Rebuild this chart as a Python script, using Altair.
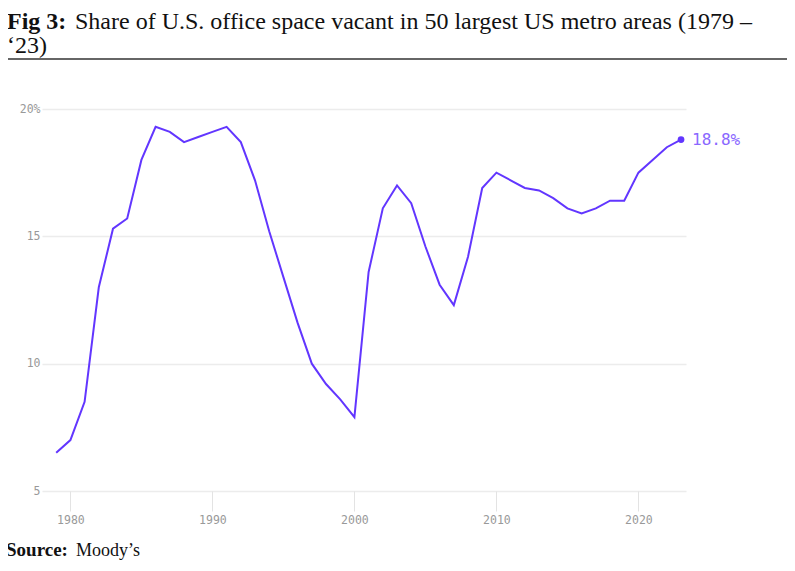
import altair as alt
import pandas as pd

years = list(range(1979, 2024))
vacancy = [6.5, 7.0, 8.5, 13.0, 15.3, 15.7, 18.0, 19.3, 19.1, 18.7,
           18.9, 19.1, 19.3, 18.7, 17.2, 15.2, 13.4, 11.6, 10.0, 9.2,
           8.6, 7.9, 13.6, 16.1, 17.0, 16.3, 14.6, 13.1, 12.3, 14.2,
           16.9, 17.5, 17.2, 16.9, 16.8, 16.5, 16.1, 15.9, 16.1, 16.4,
           16.4, 17.5, 18.0, 18.5, 18.8]
y_ticks = [5, 10, 15, 20]
x_ticks = [1980, 1990, 2000, 2010, 2020]

title_bold = "Fig 3:"
title_line1 = "Share of U.S. office space vacant in 50 largest US metro areas (1979 \u2013"
title_line2 = "\u201823)"
source_bold = "Source:"
source_text = "Moody\u2019s"

LINE = "#6236ff"
LABEL = "#8a68ff"
MONO = "DejaVu Sans Mono"
SERIF = "Liberation Serif"

df = pd.DataFrame({"year": years, "value": vacancy})
last = df.tail(1).assign(label=lambda d: d["value"].map(lambda v: f"{v:.1f}%"))

x_enc = alt.X("year:Q",
              scale=alt.Scale(domain=[1978, 2023.35], nice=False, zero=False),
              axis=alt.Axis(values=x_ticks, format="d", title=None, domain=False,
                            grid=False, ticks=True, tickSize=20, tickColor="#e3e3e3",
                            tickWidth=1, labelPadding=3, labelFont=MONO,
                            labelFontSize=11.5, labelColor="#999999"))
y_enc = alt.Y("value:Q",
              scale=alt.Scale(domain=[5, 20], nice=False, zero=False),
              axis=alt.Axis(values=y_ticks, title=None, domain=False, ticks=False,
                            grid=True, gridColor="#ececec", gridWidth=1.5,
                            labelPadding=2, labelFont=MONO, labelFontSize=11.5,
                            labelColor="#999999",
                            labelExpr="datum.value == 20 ? '20%' : datum.label"))

line = alt.Chart(df).mark_line(color=LINE, strokeWidth=2).encode(x=x_enc, y=y_enc)
point = alt.Chart(last).mark_point(filled=True, color=LINE, size=45, opacity=1).encode(
    x="year:Q", y="value:Q")
label = alt.Chart(last).mark_text(align="left", baseline="middle", dx=11, font=MONO,
                                  fontSize=16, color=LABEL).encode(
    x="year:Q", y="value:Q", text="label:N")

t_bold = alt.Chart(pd.DataFrame({"t": [title_bold]})).mark_text(
    align="left", baseline="alphabetic", font=SERIF, fontSize=24, fontWeight="bold",
    color="#111111").encode(x=alt.value(-35), y=alt.value(-80), text="t:N")
t_l1 = alt.Chart(pd.DataFrame({"t": [title_line1]})).mark_text(
    align="left", baseline="alphabetic", font=SERIF, fontSize=24,
    color="#111111").encode(x=alt.value(33), y=alt.value(-80), text="t:N")
t_l2 = alt.Chart(pd.DataFrame({"t": [title_line2]})).mark_text(
    align="left", baseline="alphabetic", font=SERIF, fontSize=24,
    color="#111111").encode(x=alt.value(-35), y=alt.value(-56), text="t:N")
rule = alt.Chart(pd.DataFrame({"a": [0]})).mark_rule(color="#333333", strokeWidth=1.5).encode(
    x=alt.value(-39), x2=alt.value(748), y=alt.value(-50))
s_bold = alt.Chart(pd.DataFrame({"t": [source_bold]})).mark_text(
    align="left", baseline="alphabetic", font=SERIF, fontSize=19, fontWeight="bold",
    color="#111111").encode(x=alt.value(-36), y=alt.value(447), text="t:N")
s_txt = alt.Chart(pd.DataFrame({"t": [source_text]})).mark_text(
    align="left", baseline="alphabetic", font=SERIF, fontSize=18,
    color="#111111").encode(x=alt.value(34), y=alt.value(447), text="t:N")

chart = alt.layer(line, point, label, t_bold, t_l1, t_l2, rule, s_bold, s_txt).properties(
    width=644, height=382,
    padding={"left": 34, "top": 101, "right": 101, "bottom": 72},
    autosize=alt.AutoSizeParams(type="none"),
    background="white",
).configure_view(strokeWidth=0, stroke="transparent")

chart.save("out.html", embed_options={"renderer": "svg", "actions": False})
